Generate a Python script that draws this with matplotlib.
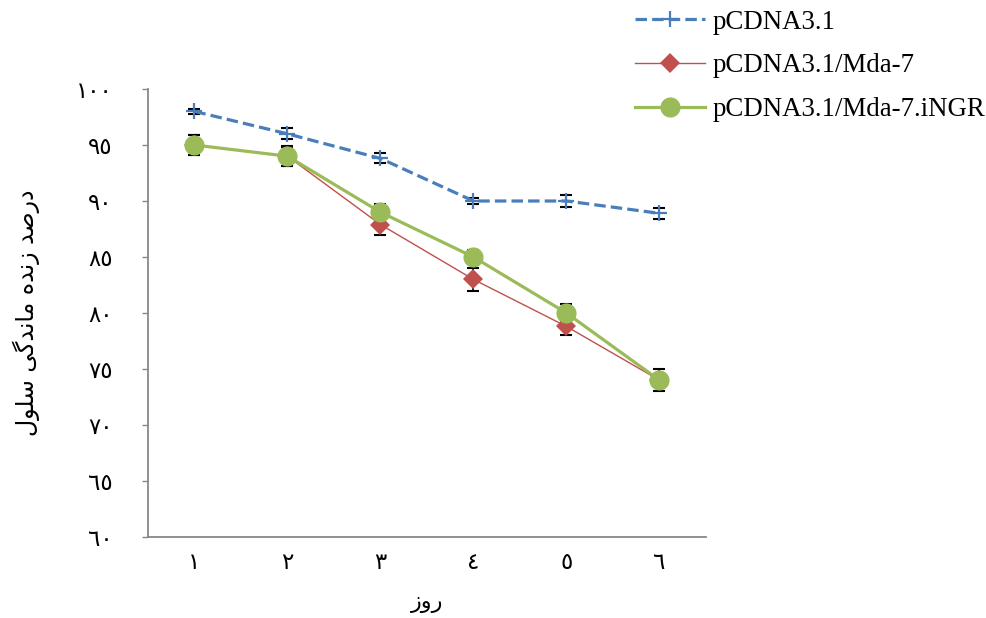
import matplotlib
matplotlib.use("Agg")
import matplotlib.pyplot as plt

# ---------------- data ----------------
days = [1, 2, 3, 4, 5, 6]
day_labels = ["١", "٢", "٣", "٤", "٥", "٦"]
y_ticks = [60, 65, 70, 75, 80, 85, 90, 95, 100]
y_tick_labels = ["٦٠", "٦٥", "٧٠", "٧٥", "٨٠", "٨٥", "٩٠", "٩٥", "١٠٠"]

series_names = ["pCDNA3.1", "pCDNA3.1/Mda-7", "pCDNA3.1/Mda-7.iNGR"]
pcdna = [98.0, 96.0, 93.8, 90.0, 90.0, 88.9]
pcdna_err = [0.25, 0.5, 0.45, 0.3, 0.55, 0.5]
mda7 = [95.0, 94.0, 87.9, 83.0, 78.8, 74.0]
mda7_err = [0.85, 0.9, 0.9, 1.0, 0.8, 1.0]
ingr = [95.0, 94.0, 89.0, 85.0, 80.0, 74.0]
ingr_err = [0.85, 0.85, 0.7, 0.6, 0.8, 0.6]

x_title = "روز"
y_title = "درصد زنده ماندگی سلول"

# ---------------- minimal Arabic shaping (for matplotlib LTR rendering) ----------------
FORMS = {
    "د": ("\uFEA9", "\uFEAA", None, None),
    "ر": ("\uFEAD", "\uFEAE", None, None),
    "ز": ("\uFEAF", "\uFEB0", None, None),
    "و": ("\uFEED", "\uFEEE", None, None),
    "ا": ("\uFE8D", "\uFE8E", None, None),
    "ص": ("\uFEB9", "\uFEBA", "\uFEBB", "\uFEBC"),
    "ن": ("\uFEE5", "\uFEE6", "\uFEE7", "\uFEE8"),
    "ه": ("\uFEE9", "\uFEEA", "\uFEEB", "\uFEEC"),
    "م": ("\uFEE1", "\uFEE2", "\uFEE3", "\uFEE4"),
    "گ": ("\uFB92", "\uFB93", "\uFB94", "\uFB95"),
    "ی": ("\uFBFC", "\uFBFD", "\uFBFE", "\uFBFF"),
    "س": ("\uFEB1", "\uFEB2", "\uFEB3", "\uFEB4"),
    "ل": ("\uFEDD", "\uFEDE", "\uFEDF", "\uFEE0"),
}


def shape(text):
    out = []
    n = len(text)
    for i, ch in enumerate(text):
        if ch not in FORMS:
            out.append(ch)
            continue
        prev = text[i - 1] if i > 0 else None
        nxt = text[i + 1] if i < n - 1 else None
        join_prev = prev in FORMS and FORMS[prev][2] is not None
        join_next = nxt in FORMS and FORMS[ch][2] is not None
        iso, fin, ini, med = FORMS[ch]
        if join_prev and join_next:
            out.append(med)
        elif join_prev:
            out.append(fin)
        elif join_next:
            out.append(ini)
        else:
            out.append(iso)
    return "".join(out)[::-1]


# ---------------- figure ----------------
fig = plt.figure(figsize=(9.86, 6.18), dpi=100)
ax = fig.add_axes([0.150, 0.131, 0.566, 0.725])

blue = "#4A7EBB"
red = "#C0504D"
green = "#9BBB59"

for vals, errs in [(pcdna, pcdna_err), (mda7, mda7_err), (ingr, ingr_err)]:
    ax.errorbar(days, vals, yerr=errs, fmt="none", ecolor="black",
                elinewidth=1.2, capsize=4.5, capthick=1.5, zorder=2)

ax.plot(days, pcdna, color=blue, linewidth=2.3, linestyle=(0, (3.6, 1.6)),
        marker="+", markersize=12, markeredgewidth=1.6, label=series_names[0], zorder=3)
ax.plot(days, mda7, color=red, linewidth=1.0, marker="D", markersize=10,
        markeredgewidth=0, label=series_names[1], zorder=4)
ax.plot(days, ingr, color=green, linewidth=2.3, marker="o", markersize=14.5,
        markeredgewidth=0, label=series_names[2], zorder=5)

ax.set_xlim(0.5, 6.5)
ax.set_ylim(60, 100)
ax.set_xticks(days)
ax.set_xticklabels(day_labels, fontsize=16.5, family=["DejaVu Sans"])
ax.set_yticks(y_ticks)
ax.set_yticklabels(y_tick_labels, fontsize=16.5, family=["DejaVu Sans"])

for s in ["top", "right"]:
    ax.spines[s].set_visible(False)
for s in ["left", "bottom"]:
    ax.spines[s].set_color("#888888")
    ax.spines[s].set_linewidth(1.3)
ax.tick_params(axis="y", direction="out", length=4.5, width=1.0, color="#888888", pad=21)
ax.tick_params(axis="x", length=0, pad=10)

ax.set_xlabel(shape(x_title), fontsize=16, family=["DejaVu Sans"], labelpad=14)
ax.set_ylabel(shape(y_title), fontsize=17, family=["DejaVu Sans"], labelpad=26)

fig.legend(loc="upper left", bbox_to_anchor=(0.625, 1.015), frameon=False,
           prop={"family": "Liberation Serif", "size": 19.4},
           handlelength=2.6, handletextpad=0.26, labelspacing=0.7, borderpad=0.2)

fig.savefig("out.png", dpi=100)
